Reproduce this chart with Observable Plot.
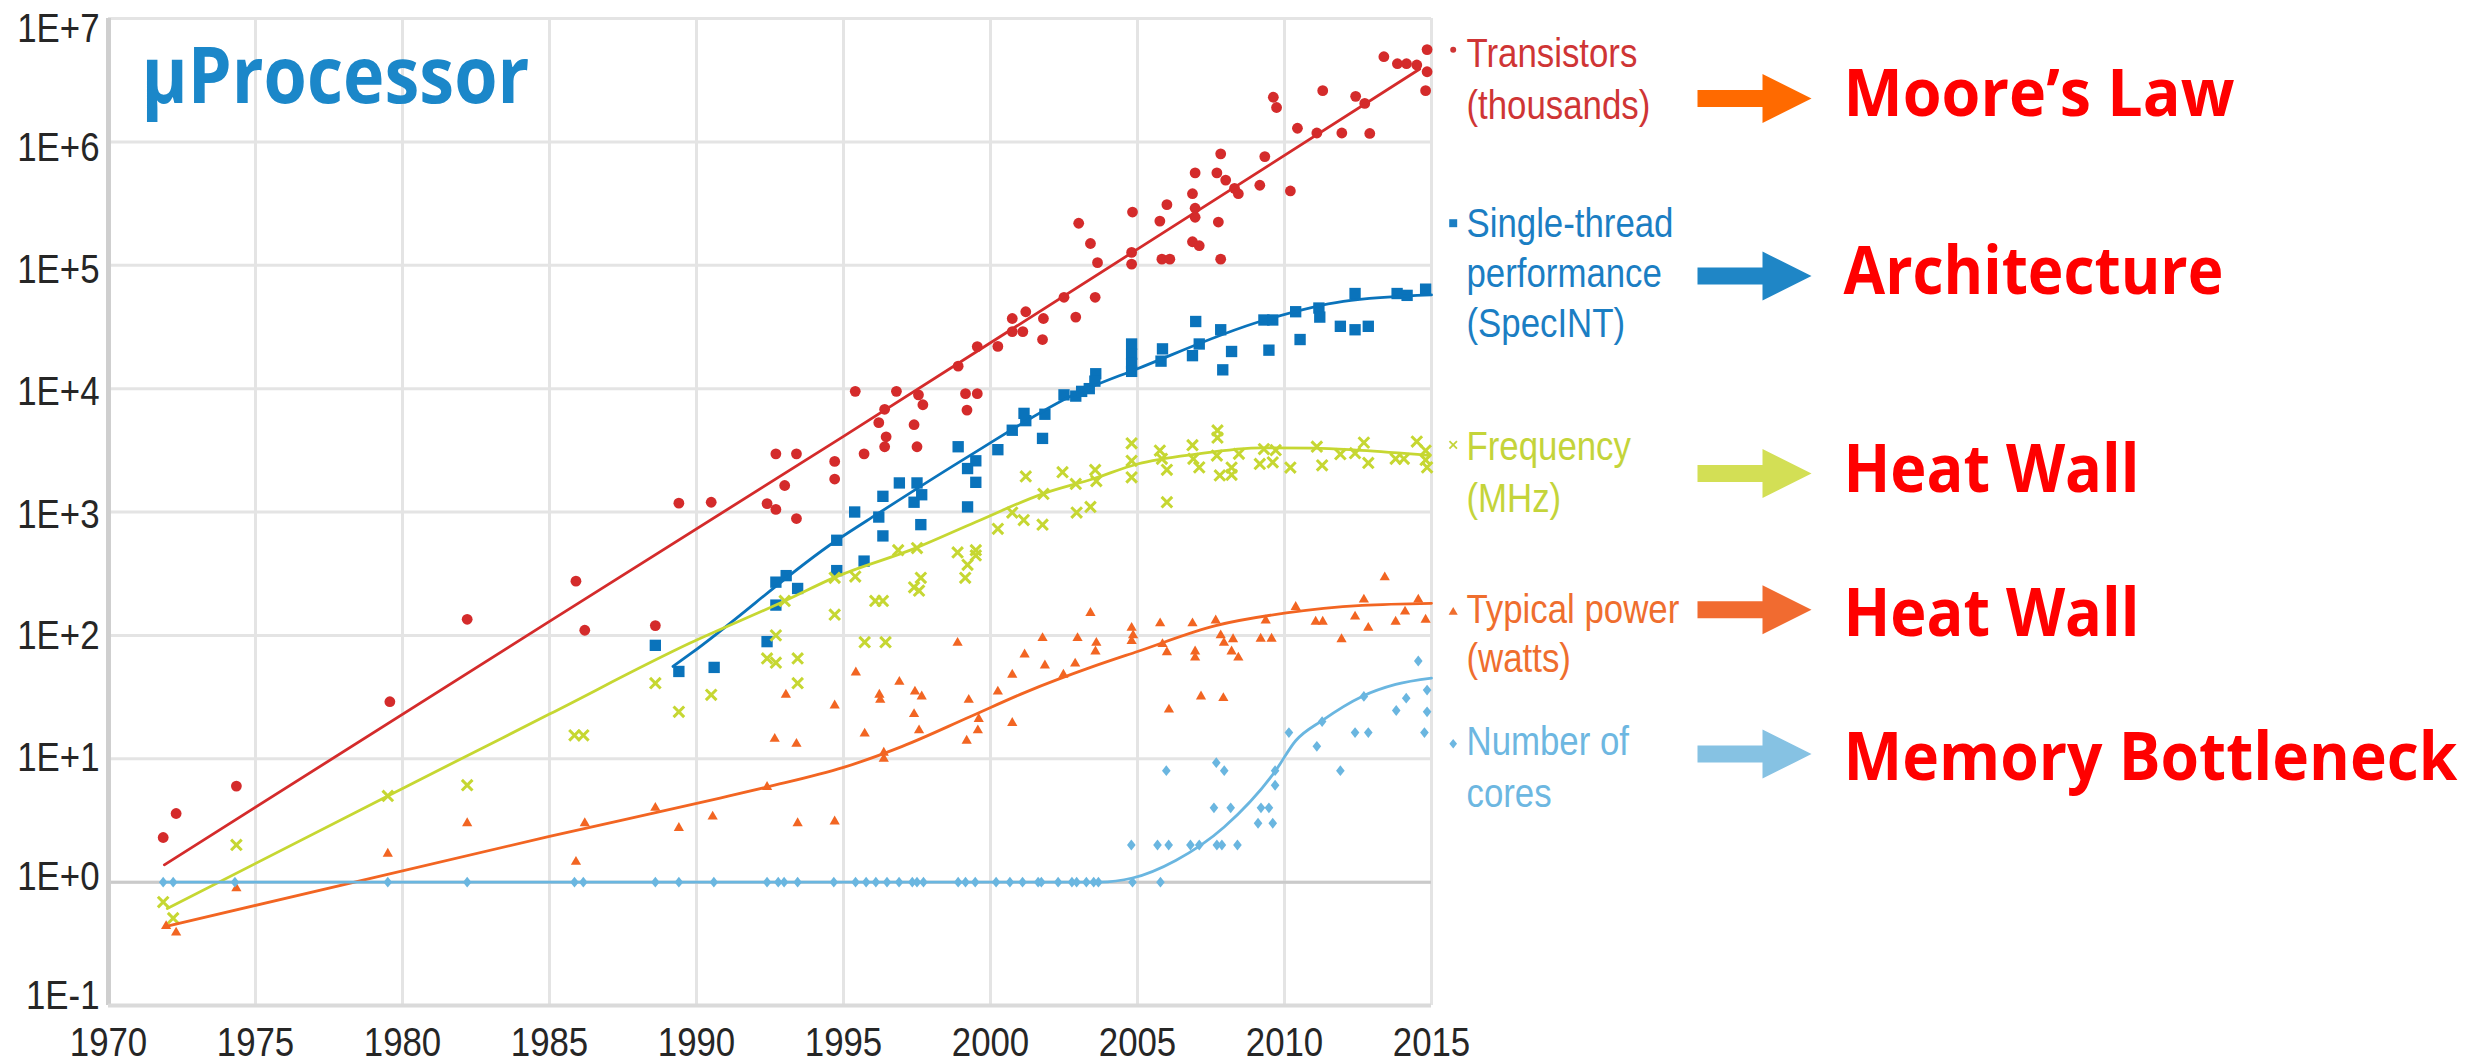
<!DOCTYPE html>
<html><head><meta charset="utf-8">
<script src="https://cdn.jsdelivr.net/npm/d3@7"></script>
<script src="https://cdn.jsdelivr.net/npm/@observablehq/plot@0.6"></script>
<style>html,body{margin:0;padding:0;background:#fff;overflow:hidden}</style>
</head><body><div id="chart"></div>
<script>
// ---------- axis ticks ----------
const xTicks = [1970, 1975, 1980, 1985, 1990, 1995, 2000, 2005, 2010, 2015];
const yTickValues = [0.1, 1, 10, 100, 1000, 1e4, 1e5, 1e6, 1e7];
const yTickLabels = ["1E-1", "1E+0", "1E+1", "1E+2", "1E+3", "1E+4", "1E+5", "1E+6", "1E+7"];

// ---------- texts ----------
const chartTitle = "µProcessor";
const seriesNames = ["Transistors\n(thousands)", "Single-thread\nperformance\n(SpecINT)", "Frequency\n(MHz)", "Typical power\n(watts)", "Number of\ncores"];
const annotations = ["Moore’s Law", "Architecture", "Heat Wall", "Heat Wall", "Memory Bottleneck"];

// ---------- data: [year, value] ----------
const transistors = [
[1971.86,2.3],[1972.3,3.6],[1974.35,6.0],[1979.57,29],[1982.2,135],[1985.9,275],[1986.2,110],[1988.6,120],[1989.4,1180],[1990.5,1200],
[1992.4,1170],[1992.7,2960],[1992.7,1050],[1993.0,1640],[1993.4,2960],[1993.4,885],[1994.7,2570],[1994.7,1850],[1995.4,9500],[1995.7,2960],
[1996.2,5300],[1996.4,6800],[1996.4,3380],[1996.45,4070],[1996.8,9500],[1997.4,5100],[1997.5,3380],[1997.55,8900],[1997.7,7400],[1998.9,15200],
[1999.15,9100],[1999.55,9100],[1999.2,6700],[1999.55,21900],[2000.25,22000],[2000.74,37000],[2000.74,29000],[2001.1,29000],[2001.2,42000],[2001.8,37000],
[2001.77,25000],[2002.5,55000],[2002.9,38000],[2003.0,219000],[2003.4,150000],[2003.64,105000],[2003.56,55000],[2004.83,270000],[2004.8,127000],[2004.8,102000],
[2005.76,228000],[2006.0,310000],[2005.83,112000],[2006.1,112000],[2006.87,380000],[2006.96,560000],[2006.96,290000],[2006.96,245000],[2006.87,155000],[2007.1,144000],
[2007.7,560000],[2007.83,800000],[2008.0,490000],[2007.75,224000],[2007.83,112000],[2008.3,420000],[2008.43,380000],[2009.16,445000],[2009.33,760000],[2009.62,2300000],
[2009.73,1900000],[2010.2,400000],[2010.44,1290000],[2011.1,1180000],[2011.3,2600000],[2011.95,1180000],[2012.42,2340000],[2012.73,2050000],[2012.9,1170000],[2013.38,4900000],
[2013.84,4300000],[2014.15,4300000],[2014.5,4200000],[2014.85,5600000],[2014.85,3700000],[2014.8,2600000]
];
const specint = [
[1988.6,83],[1989.4,51],[1990.6,55],[1992.4,89],[1992.7,270],[1993.05,305],[1992.7,176],[1993.44,240],[1994.77,590],[1994.77,335],
[1995.38,1000],[1995.7,400],[1996.2,910],[1996.34,1340],[1996.34,640],[1996.9,1720],[1997.5,1720],[1997.4,1200],[1997.66,1380],[1997.63,790],
[1998.9,3380],[1999.22,2250],[1999.5,2600],[1999.5,1740],[1999.22,1100],[2000.25,3200],[2000.74,4600],[2001.14,6300],[2001.2,5500],[2001.77,3950],
[2001.85,6200],[2002.5,8900],[2002.9,8700],[2003.1,9500],[2003.36,10000],[2003.58,13200],[2003.55,11500],[2004.8,23000],[2004.8,19000],[2004.8,16000],
[2004.8,13800],[2005.8,16700],[2005.85,21000],[2006.87,18500],[2006.98,35000],[2007.1,23000],[2007.83,30000],[2007.9,14200],[2008.2,20000],[2009.3,36000],
[2009.6,36000],[2009.47,20500],[2010.38,42000],[2010.53,25000],[2011.17,45000],[2011.2,38000],[2011.9,32000],[2012.4,30000],[2012.85,32000],[2012.4,59000],
[2013.83,59000],[2014.17,57000],[2014.8,64000]
];
const frequency = [
[1971.86,0.69],[1972.2,0.51],[1974.35,2.0],[1979.5,5.0],[1982.2,6.1],[1985.85,15.5],[1986.15,15.5],[1988.6,41],[1989.4,24],[1990.5,33],
[1992.4,65],[1992.7,60],[1992.7,100],[1993.44,65],[1993.44,41],[1993.0,190],[1994.7,147],[1994.7,293],[1995.4,300],[1995.72,88],
[1996.43,88],[1996.08,190],[1996.34,190],[1996.86,490],[1997.5,510],[1997.4,245],[1997.63,293],[1997.57,230],[1998.88,470],[1999.14,293],
[1999.22,373],[1999.5,490],[1999.5,445],[2000.25,730],[2000.74,990],[2001.13,860],[2001.77,790],[2001.2,1940],[2001.8,1400],[2002.45,2100],
[2002.9,1690],[2002.93,990],[2003.4,1100],[2003.56,2190],[2003.6,1780],[2004.8,3600],[2004.8,2600],[2004.8,1910],[2005.76,3150],[2005.83,2700],
[2006.0,2200],[2006.0,1200],[2006.87,3480],[2006.9,2700],[2007.1,2300],[2007.7,2870],[2007.72,4580],[2007.72,4000],[2007.8,1980],[2008.2,2290],
[2008.2,2000],[2008.45,2960],[2009.16,2450],[2009.3,3240],[2009.6,2530],[2009.7,3170],[2010.2,2290],[2011.1,3380],[2011.28,2390],[2011.9,2940],
[2012.4,3000],[2012.7,3650],[2012.85,2500],[2013.78,2700],[2014.06,2700],[2014.5,3720],[2014.8,3150],[2014.8,2640],[2014.85,2300]
];
const power = [
[1971.96,0.44],[1972.3,0.39],[1974.35,0.89],[1979.5,1.7],[1982.2,3.0],[1985.9,1.46],[1986.2,3.0],[1988.6,4.0],[1989.4,2.75],[1990.55,3.4],
[1992.4,5.9],[1992.66,14.5],[1993.04,33],[1993.4,13.2],[1993.44,3.0],[1994.7,27],[1994.7,3.1],[1995.42,50],[1995.72,16],[1996.22,33],
[1996.25,30],[1996.37,11.2],[1996.37,10],[1996.9,42],[1997.43,35],[1997.66,32],[1997.4,23],[1997.57,17],[1998.88,87],[1999.26,30],
[1999.6,21],[1999.57,17],[1999.19,14],[2000.25,35],[2000.74,48],[2000.74,19.5],[2001.16,70],[2001.77,95],[2001.85,57],[2002.48,48],
[2002.88,59],[2002.96,95],[2003.4,152],[2003.6,87],[2003.57,74],[2004.8,115],[2004.85,100],[2004.8,90],[2005.77,125],[2005.85,85],
[2006.0,73],[2006.07,25],[2006.87,125],[2006.96,74],[2006.96,66],[2007.16,32],[2007.66,132],[2007.83,100],[2007.94,87],[2008.25,93],
[2008.2,74],[2008.43,66],[2007.92,31],[2009.19,94],[2009.36,132],[2009.56,94],[2010.38,170],[2011.06,129],[2011.3,129],[2011.94,93],
[2012.4,142],[2012.7,195],[2012.85,115],[2013.41,295],[2013.78,129],[2014.1,156],[2014.55,195],[2014.8,134]
];
const coresAtOne = [1971.86,1972.2,1974.3,1979.5,1982.2,1985.85,1986.15,1988.6,1989.4,1990.59,1992.4,1992.78,1992.98,1993.44,1994.67,1995.41,1995.77,1996.1,1996.48,1996.89,1997.34,1997.5,1997.72,1998.9,1999.15,1999.48,2000.19,2000.66,2001.09,2001.62,2001.73,2002.3,2002.77,2002.93,2003.26,2003.51,2003.67,2004.83,2005.78];
const coresMulti = [
[2004.79,2],[2005.68,2],[2006.06,2],[2005.98,8],[2006.8,2],[2007.1,2],[2007.7,2],[2007.87,2],[2008.4,2],[2007.6,4],
[2008.17,4],[2007.68,9.3],[2007.95,8],[2009.1,3],[2009.2,4],[2009.47,4],[2009.6,3],[2009.68,6.1],[2009.68,8],[2011.9,8],
[2010.15,16.3],[2011.1,12.6],[2011.28,20],[2012.4,16.3],[2012.85,16.3],[2012.7,32],[2013.8,24.6],[2014.14,31],[2014.55,62],[2014.85,36],
[2014.85,24],[2014.76,16.3]
];

// ---------- trend curves ----------
const transistorsFit = [[1971.9,1.38],[1985,130],[1995,4100],[2005,135000],[2014.6,3900000]];
const specintFit = [[1989.2,56],[1989.8,71],[1994.77,590],[1996.14,960],[1999.28,2850],[2002.9,9100],[2005,14500],[2009.25,35500],[2012,51000],[2015,57500]];
const frequencyFit = [[1972.0,0.61],[1979.5,5.0],[1985,23],[1989.8,87],[1993.0,190],[1994.7,295],[1997.45,510],[1999.5,830],[2001.8,1410],[2003.5,1860],[2005,2450],[2007,2950],[2009.25,3310],[2011,3300],[2012.6,3160],[2014.9,2880]];
const powerFit = [[1972.0,0.44],[1985,2.35],[1990.8,4.8],[1992.4,5.9],[1995,8.5],[1997,12.6],[1999.3,21.9],[2001.2,34.7],[2003.5,56],[2005,74],[2007.66,120],[2010.06,152],[2012.64,175],[2015,182]];
const coresFit = [[1971.9,1],[2003.7,1],[2004.83,1.08],[2006.3,1.5],[2007.95,2.8],[2009.68,7.9],[2010.38,14],[2011.28,20.4],[2012.64,32],[2013.78,40],[2015,45]];

// ---------- styles ----------
const C = {red: "#d42b2b", blue: "#0a73bb", green: "#c6d732", orange: "#f26522", cyan: "#6ab6e0"};
const legendColors = ["#cf3535", "#1b7ec3", "#c4d43a", "#ef6e2e", "#6db7e1"];
const legendR = [3, 4.5, 3.5, 3.4, 3.2];
const legendDy = [100, 318, 493, 653, 788];
const legendLH = [1.3, 1.25, 1.3, 1.225, 1.29];
const markerDy = [31.3, 204.7, 426.3, 593.7, 725.3];
const arrowColors = ["#ff6a00", "#1f86c6", "#d3df55", "#f16b30", "#86c2e3"];
const arrowDy = [79.9, 257.6, 455, 591.3, 735.6];
const annotDy = [97, 275.6, 473, 617.5, 761];
const yLabelShift = [-10.5, -6, -2.5, -0.5, 1.5, 2, 3, 5, 9.5];

const sansFont = '"Liberation Sans",Arial,sans-serif';
const boldFont = '"Open Sans","Lato","Noto Sans",sans-serif';
const narrowFactor = 0.87;

const rows = pts => pts.map(([year, value]) => ({year, value}));

const blockArrow = {
  draw(ctx, size) {
    const L = Math.sqrt(size / Math.PI);
    const sh = L * 8.5 / 57, hh = L * 24.5 / 57, hx = L * 8 / 57;
    ctx.moveTo(-L, -sh); ctx.lineTo(hx, -sh); ctx.lineTo(hx, -hh); ctx.lineTo(L, 0);
    ctx.lineTo(hx, hh); ctx.lineTo(hx, sh); ctx.lineTo(-L, sh); ctx.closePath();
  }
};
const wideDiamond = {
  draw(ctx, size) {
    const r = Math.sqrt(size / Math.PI);
    ctx.moveTo(0, -r); ctx.lineTo(r * 0.8, 0); ctx.lineTo(0, r); ctx.lineTo(-r * 0.8, 0); ctx.closePath();
  }
};
const legendSymbols = ["circle", "square", "times", "triangle", wideDiamond];

const marks = [
  Plot.ruleX(xTicks, {stroke: "#e4e4e4", strokeWidth: 3}),
  Plot.ruleY(yTickValues, {stroke: "#e4e4e4", strokeWidth: 3}),
  Plot.ruleY([1], {stroke: "#cacaca", strokeWidth: 3}),
  Plot.ruleX([1970], {stroke: "#cfcfcf", strokeWidth: 5}),
  Plot.ruleY([0.1], {stroke: "#dadada", strokeWidth: 4}),

  // points
  Plot.dot(rows(transistors), {x: "year", y: "value", r: 5.4, fill: C.red, symbol: "circle"}),
  Plot.dot(rows(specint), {x: "year", y: "value", r: 6.4, fill: C.blue, symbol: "square"}),
  Plot.dot(rows(frequency), {x: "year", y: "value", r: 4.9, stroke: C.green, strokeWidth: 3, symbol: "times"}),
  Plot.dot(rows(power), {x: "year", y: "value", r: 3.8, fill: C.orange, symbol: "triangle"}),
  Plot.dot(coresAtOne.map(year => ({year, value: 1})), {x: "year", y: "value", r: 5.4, fill: C.cyan, symbol: wideDiamond}),
  Plot.dot(rows(coresMulti), {x: "year", y: "value", r: 5.4, fill: C.cyan, symbol: wideDiamond}),

  // trend curves
  Plot.line(rows(transistorsFit), {x: "year", y: "value", stroke: C.red, strokeWidth: 2.8, curve: "linear"}),
  Plot.line(rows(specintFit), {x: "year", y: "value", stroke: C.blue, strokeWidth: 2.8, curve: "monotone-x"}),
  Plot.line(rows(frequencyFit), {x: "year", y: "value", stroke: C.green, strokeWidth: 2.8, curve: "monotone-x"}),
  Plot.line(rows(powerFit), {x: "year", y: "value", stroke: C.orange, strokeWidth: 2.8, curve: "monotone-x"}),
  Plot.line(rows(coresFit), {x: "year", y: "value", stroke: C.cyan, strokeWidth: 2.8, curve: "monotone-x"}),

  // x tick labels
  Plot.text(xTicks, {x: d => d, frameAnchor: "bottom", text: d => String(d), lineAnchor: "top", dy: 22, fontSize: 40, fill: "#262626", fontFamily: sansFont, className: "narrow"}),

  // title
  Plot.text([chartTitle], {frameAnchor: "top-left", text: d => d, dx: 33, dy: 84.5, textAnchor: "start", lineAnchor: "bottom", fontSize: 79, fontWeight: "bold", fill: "#1b87c9", fontFamily: boldFont})
];

// y tick labels
yTickValues.forEach((v, i) => {
  marks.push(Plot.text([v], {y: d => d, frameAnchor: "left", text: () => yTickLabels[i], textAnchor: "end", lineAnchor: "middle", dx: -9, dy: yLabelShift[i] + 1.5, fontSize: 40, fill: "#262626", fontFamily: sansFont}));
});

// legend, arrows, annotations
seriesNames.forEach((name, i) => {
  const sym = legendSymbols[i];
  marks.push(Plot.dot([0], {frameAnchor: "top-right", dx: 21.7, dy: markerDy[i], r: sym === wideDiamond ? 4.8 : legendR[i], symbol: sym,
    ...(sym === "times" ? {stroke: legendColors[i], strokeWidth: 1.8} : {fill: legendColors[i]})}));
  marks.push(Plot.text([name], {frameAnchor: "top-right", text: d => d, dx: 35, dy: legendDy[i], textAnchor: "start", lineAnchor: "bottom", lineHeight: legendLH[i], fontSize: 40, fill: legendColors[i], fontFamily: sansFont}));
  marks.push(Plot.dot([0], {frameAnchor: "top-right", dx: 323, dy: arrowDy[i], r: 57, symbol: blockArrow, fill: arrowColors[i], stroke: "none"}));
  marks.push(Plot.text([annotations[i]], {frameAnchor: "top-right", text: d => d, dx: 412, dy: annotDy[i], textAnchor: "start", lineAnchor: "bottom", fontSize: 67, fontWeight: "bold", fill: "#ff0000", fontFamily: boldFont}));
});

const svg = Plot.plot({
  width: 2473, height: 1062,
  marginLeft: 108, marginRight: 1042, marginTop: 18, marginBottom: 57,
  x: {domain: [1970, 2015], axis: null},
  y: {type: "log", domain: [0.1, 1e7], axis: null},
  style: {fontFamily: sansFont, background: "#fff", overflow: "visible"},
  marks
});
document.getElementById("chart").appendChild(svg);

// Horizontal condensing: bold labels fitted to the widths seen in the picture,
// every other text squeezed like the condensed face of the original.
const textWidths = new Map([["Moore’s Law", 391], ["Architecture", 380], ["Heat Wall", 296], ["Memory Bottleneck", 614], ["µProcessor", 388]]);
svg.querySelectorAll("text").forEach(t => {
  const natural = t.getComputedTextLength ? t.getComputedTextLength() : 0;
  const w = textWidths.get(t.textContent);
  let sx = narrowFactor;
  if (w && natural > 0) sx = w / natural;
  const tr = t.getAttribute("transform") || "";
  t.setAttribute("transform", `${tr} scale(${sx},1)`.trim());
});
</script></body></html>
